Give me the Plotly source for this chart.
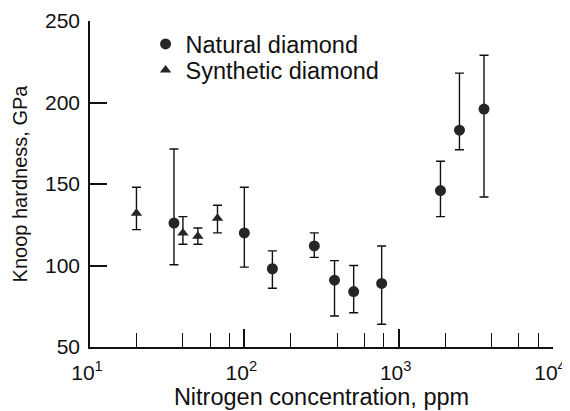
import plotly.graph_objects as go

# natural diamond: nitrogen (ppm), hardness (GPa), error up/down
nat_n = [35, 100, 152, 284, 384, 511, 776, 1866, 2477, 3573]
nat_h = [126, 120, 98, 112, 91, 84, 89, 146, 183, 196]
nat_up = [45.5, 28, 11, 8, 12, 16, 23, 18, 35, 33]
nat_dn = [25.5, 21, 12, 7, 22, 13, 25, 16, 12, 54]

# synthetic diamond
syn_n = [20, 40, 50, 67]
syn_h = [132, 120, 118, 129]
syn_up = [16, 10, 5, 8]
syn_dn = [10, 7, 5, 9]

xtick_vals = [10, 100, 1000, 10000]
xtick_text = ["10<sup>1</sup>", "10<sup>2</sup>", "10<sup>3</sup>", "10<sup>4</sup>"]
even_minor = [m * d for d in [10, 100, 1000] for m in (2, 4, 6, 8)]
odd_minor = [m * d for d in [10, 100, 1000] for m in (3, 5, 7, 9)]
ytick_vals = [50, 100, 150, 200, 250]

FONT = "Liberation Sans, Arial, sans-serif"
INK = "#111"

fig = go.Figure()
fig.add_trace(go.Scatter(
    x=nat_n, y=nat_h, mode="markers", name="Natural diamond", legend="legend",
    marker=dict(symbol="circle", size=11, color="#262626"),
    error_y=dict(type="data", symmetric=False, array=nat_up, arrayminus=nat_dn,
                 color=INK, thickness=1.4, width=4.5),
))
fig.add_trace(go.Scatter(
    x=syn_n, y=syn_h, mode="markers", name="Synthetic diamond", legend="legend2",
    marker=dict(symbol="triangle-up", size=10, color="#262626"),
    error_y=dict(type="data", symmetric=False, array=syn_up, arrayminus=syn_dn,
                 color=INK, thickness=1.4, width=4.5),
))

leg = dict(x=0.12, xanchor="left", yanchor="middle", bgcolor="rgba(0,0,0,0)",
           font=dict(size=23.5, color=INK))

# page body has an 8px margin, so the figure is drawn 8px smaller
fig.update_layout(
    width=562, height=403,
    margin=dict(l=82, r=16.5, t=12.7, b=63.7, autoexpand=False),
    paper_bgcolor="white", plot_bgcolor="white",
    font=dict(family=FONT, size=21, color=INK),
    showlegend=True,
    legend=dict(leg, y=0.929),
    legend2=dict(leg, y=0.849),
    xaxis=dict(
        type="log", range=[1, 4], showgrid=False, zeroline=False,
        showline=True, linecolor=INK, linewidth=1.5,
        ticks="inside", ticklen=18, tickwidth=1.5, tickcolor=INK,
        tickvals=xtick_vals, ticktext=xtick_text,
        ticklabelstandoff=6, ticklabelshift=-3,
        minor=dict(ticks="inside", ticklen=14, tickwidth=1.3, tickcolor=INK,
                   tickvals=even_minor, showgrid=False),
        title=dict(text="Nitrogen concentration, ppm", standoff=6,
                   font=dict(size=23.5)),
    ),
    xaxis2=dict(type="log", range=[1, 4], overlaying="x", side="bottom",
                anchor="y", showgrid=False, zeroline=False, showline=False,
                ticks="inside", ticklen=10, tickwidth=1.3, tickcolor=INK,
                tickvals=odd_minor, showticklabels=False),
    yaxis=dict(
        range=[50, 250], showgrid=False, zeroline=False,
        showline=True, linecolor=INK, linewidth=1.5,
        ticks="inside", ticklen=17, tickwidth=1.5, tickcolor=INK,
        tickvals=ytick_vals, ticklabelstandoff=4,
        title=dict(text="Knoop hardness, GPa", standoff=12, font=dict(size=20)),
    ),
)

fig.write_html("out.html")
